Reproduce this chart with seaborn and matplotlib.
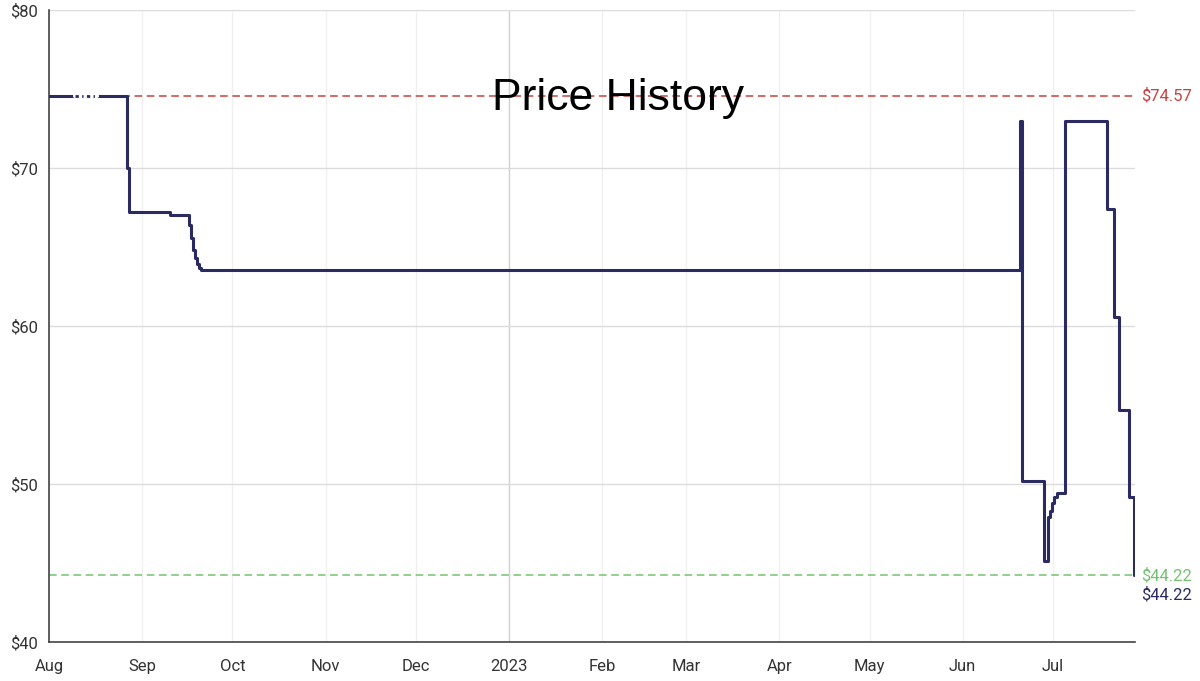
import pandas as pd
import numpy as np
import matplotlib
matplotlib.use("Agg")
import matplotlib.pyplot as plt
import seaborn as sns

# historial de precios (escalones, "steps-post")
fechas = ["2022-08-01 00:00", "2022-08-27 00:00", "2022-08-27 16:00", "2022-09-10 06:00",
          "2022-09-16 14:00", "2022-09-17 05:00", "2022-09-17 22:00", "2022-09-18 14:00",
          "2022-09-19 05:00", "2022-09-19 22:00", "2022-09-20 14:00",
          "2023-06-20 00:00", "2023-06-20 16:00", "2023-06-28 00:00", "2023-06-29 08:00",
          "2023-06-30 00:00", "2023-06-30 16:00", "2023-07-01 08:00", "2023-07-02 08:00",
          "2023-07-05 00:00", "2023-07-19 00:00", "2023-07-21 08:00", "2023-07-23 00:00",
          "2023-07-26 08:00", "2023-07-28 00:00", "2023-07-28 08:00"]
precios = [74.57, 70.0, 67.2, 67.0,
           66.4, 65.6, 64.8, 64.3,
           63.9, 63.7, 63.55,
           72.97, 50.2, 45.1, 47.9,
           48.3, 48.8, 49.2, 49.45,
           72.97, 67.4, 60.6, 54.7,
           49.2, 44.22, 44.22]

# tramo con huecos al principio (datos que faltan)
fechas_huecos = ["2022-08-09 14:00", "2022-08-17 00:00"]

precio_max = 74.57
precio_min = 44.22
precio_actual = 44.22

y_ticks = [40, 50, 60, 70, 80]

df = pd.DataFrame({"fecha": pd.to_datetime(fechas, format="%Y-%m-%d %H:%M"), "precio": precios})

sns.set_style("white")
plt.rcParams["font.family"] = ["Roboto", "DejaVu Sans"]

fig = plt.figure(figsize=(12, 6.81), dpi=100)
ax = fig.add_axes([49 / 1200, 1 - 642 / 681, (1135 - 49) / 1200, 632 / 681])

navy = "#2b2b63"
sns.lineplot(data=df, x="fecha", y="precio", drawstyle="steps-post",
             color=navy, linewidth=2.2, ax=ax, zorder=3)

# puntitos en la zona sin datos
h = pd.to_datetime(fechas_huecos, format="%Y-%m-%d %H:%M")
ax.plot(h, [precio_max, precio_max], color="white", linewidth=3, zorder=4)
ax.plot(h, [precio_max, precio_max], color=navy, linewidth=2.0,
        linestyle=(0, (1.2, 1.2, 0.5, 1.2)), zorder=5)

ax.axhline(precio_max, color="#c9413f", linestyle=(0, (5, 3)), linewidth=1.1, zorder=2)
ax.axhline(precio_min, color="#74c26f", linestyle=(0, (5, 3)), linewidth=1.1, zorder=2)

x0 = pd.Timestamp("2022-08-01")
x1 = pd.Timestamp("2023-07-28 08:00")
ax.set_xlim(x0, x1)
ax.set_ylim(40, 80)
ax.set_yticks(y_ticks)
ax.set_yticklabels([f"${v}" for v in y_ticks])

ticks = list(pd.date_range("2022-08-01", "2023-07-01", freq="MS")) + [x1]
etiquetas = [("2023" if t.month == 1 else t.strftime("%b")) for t in ticks[:-1]] + [""]
ax.set_xticks(ticks)
ax.set_xticklabels(etiquetas)

ax.grid(True, axis="y", color="#dcdcdc", linewidth=1)
for t in ticks[:-1]:
    c = "#d0d0d0" if t.month == 1 else "#f0f0f0"
    ax.axvline(t, color=c, linewidth=1, zorder=0)

for s in ["top", "right"]:
    ax.spines[s].set_visible(False)
for s in ["left", "bottom"]:
    ax.spines[s].set_color("#444444")
    ax.spines[s].set_linewidth(1.2)

ax.tick_params(axis="both", length=5, width=1.1, color="#444444",
               labelsize=12, labelcolor="#333333")
ax.tick_params(axis="x", pad=7)
ax.tick_params(axis="y", pad=3)
ax.set_xlabel("")
ax.set_ylabel("")

# etiquetas a la derecha
tr = ax.get_yaxis_transform()
ax.text(1.006, precio_max, f"${precio_max:.2f}", transform=tr, color="#c9413f",
        fontsize=12, va="center", ha="left")
ax.text(1.006, precio_min, f"${precio_min:.2f}", transform=tr, color="#74c26f",
        fontsize=12, va="center", ha="left")
ax.text(1.006, precio_actual - 1.25, f"${precio_actual:.2f}", transform=tr, color=navy,
        fontsize=12, va="center", ha="left")

ax.text(0.524, 73.65, "Price History", transform=tr, ha="center", va="baseline",
        fontsize=32, color="black", family=["Liberation Sans", "DejaVu Sans"], zorder=6)

fig.savefig("out.png", dpi=100)
